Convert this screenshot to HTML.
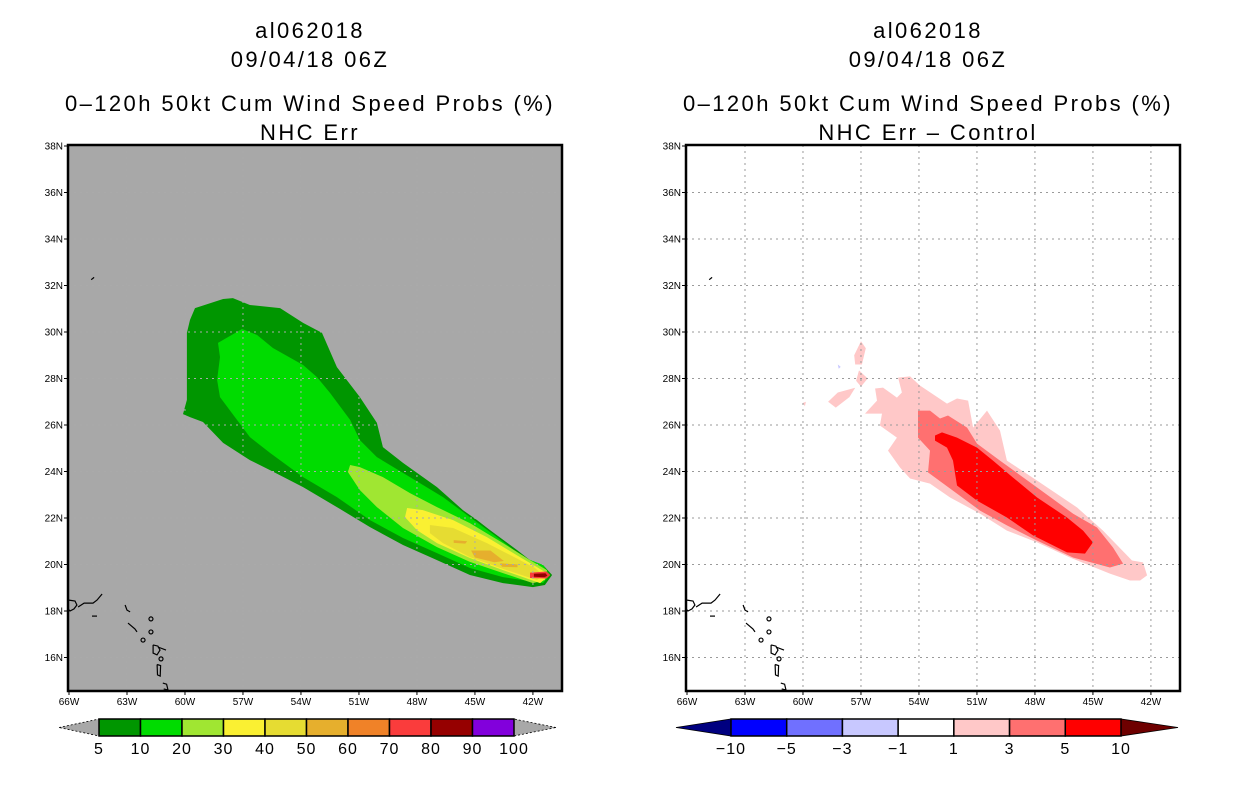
<!DOCTYPE html>
<html><head><meta charset="utf-8"><style>
html,body{margin:0;padding:0;background:#fff;}
svg{display:block;font-family:"Liberation Sans",sans-serif;}
</style></head><body>
<svg id="fig" width="1236" height="800" viewBox="0 0 1236 800" xmlns="http://www.w3.org/2000/svg">
<defs>
<clipPath id="clipL"><rect x="68" y="145" width="494" height="546"/></clipPath>
<clipPath id="clipR"><rect x="686" y="145" width="494" height="546"/></clipPath>
</defs>
<g font-size="22" letter-spacing="2.4" text-anchor="middle" fill="#000">
<text x="310" y="38">al062018</text>
<text x="310" y="67">09/04/18 06Z</text>
<text x="310" y="111">0–120h 50kt Cum Wind Speed Probs (%)</text>
<text x="310" y="140">NHC Err</text>
</g>
<g font-size="22" letter-spacing="2.4" text-anchor="middle" fill="#000">
<text x="928" y="38">al062018</text>
<text x="928" y="67">09/04/18 06Z</text>
<text x="928" y="111">0–120h 50kt Cum Wind Speed Probs (%)</text>
<text x="928" y="140">NHC Err – Control</text>
</g>
<g id="panelL"></g>
<g id="panelR"></g>
<g id="cbarL"></g>
<g id="cbarR"></g>
</svg>
<script>
const latTicks=[38,36,34,32,30,28,26,24,22,20,18,16];
const lonTicks=[66,63,60,57,54,51,48,45,42];
const leftLevels=["5","10","20","30","40","50","60","70","80","90","100"];
const leftColors=["#009600","#00dc00","#a0e632","#faf032","#e6dc32","#e6af2d","#f08228","#fa3c3c","#960000","#8200dc"];
const rightLevels=["−10","−5","−3","−1","1","3","5","10"];
const rightColors=["#0000ff","#7070ff","#c8c8ff","#ffffff","#ffc8c8","#ff7070","#ff0000"];

// probability contours (lon, lat)
const p5=[[-59.48,31.03],[-58.03,31.42],[-57.52,31.46],[-56.64,31.16],[-55.08,31.03],[-53.89,30.39],[-52.91,29.96],[-52.14,28.49],[-50.95,27.2],[-50.07,26.09],[-49.76,25.05],[-48.72,24.37],[-46.96,23.33],[-45.62,22.34],[-44.89,21.91],[-44.22,21.48],[-42.82,20.62],[-42.15,20.19],[-41.48,19.98],[-41.01,19.55],[-41.38,19.12],[-42.0,19.03],[-43.55,19.2],[-45.26,19.55],[-46.96,20.19],[-48.72,20.84],[-50.43,21.61],[-52.14,22.47],[-53.89,23.33],[-55.6,24.06],[-56.64,24.49],[-58.03,25.23],[-59.07,26.13],[-59.74,26.34],[-60.1,26.47],[-59.9,27.08],[-59.9,29.96],[-59.74,30.52]];
const p10=[[-58.29,29.53],[-57.05,30.13],[-56.27,29.87],[-55.45,29.31],[-53.89,28.58],[-53.17,28.06],[-52.5,27.38],[-51.46,26.22],[-50.95,25.35],[-50.07,24.62],[-48.36,23.76],[-46.65,22.9],[-45.26,22.04],[-43.86,21.18],[-42.51,20.32],[-41.48,19.98],[-41.12,19.55],[-41.48,19.2],[-43.55,19.46],[-45.26,19.85],[-46.96,20.49],[-48.72,21.14],[-50.43,21.91],[-52.14,22.9],[-53.89,23.76],[-55.6,24.8],[-56.64,25.48],[-57.31,26.22],[-58.19,27.2],[-58.34,27.94],[-58.19,28.92]];
const p20=[[-51.46,24.28],[-50.95,24.19],[-49.76,23.76],[-48.36,23.07],[-46.96,22.47],[-45.26,21.78],[-43.55,20.92],[-42.15,20.19],[-41.27,19.76],[-41.38,19.33],[-42.0,19.2],[-43.55,19.63],[-45.26,20.11],[-46.96,20.75],[-48.72,21.57],[-50.07,22.47],[-50.95,23.2],[-51.57,23.98]];
const p30=[[-48.51,22.43],[-47.69,22.34],[-46.13,21.91],[-44.38,21.18],[-42.67,20.32],[-41.79,19.89],[-41.12,19.55],[-41.63,19.2],[-43.55,19.76],[-45.26,20.28],[-46.96,20.92],[-48.0,21.48],[-48.62,22.04]];
const p40=[[-47.33,21.7],[-46.13,21.57],[-44.38,20.92],[-42.67,20.19],[-41.89,19.85],[-41.48,19.55],[-41.79,19.33],[-43.55,19.81],[-45.26,20.32],[-46.65,20.92],[-47.33,21.35]];
const p50a=[[-46.1,21.05],[-45.4,21.0],[-45.5,20.9],[-46.1,20.93]];
const p50b=[[-45.2,20.6],[-44.2,20.6],[-43.5,20.15],[-44.0,20.1],[-45.0,20.3]];
const p50c=[[-43.7,20.05],[-42.8,20.0],[-42.8,19.88],[-43.6,19.9]];
const p70=[[-42.15,19.65],[-41.3,19.7],[-41.1,19.55],[-41.3,19.4],[-42.15,19.42]];
const p80=[[-41.95,19.6],[-41.35,19.62],[-41.25,19.52],[-41.4,19.45],[-41.95,19.47]];

// difference contours (lon, lat)
const d1=[[-55.08,28.04],[-54.46,28.09],[-53.95,27.7],[-52.55,26.92],[-52.03,27.14],[-51.46,27.05],[-51.2,25.89],[-50.48,26.62],[-49.81,25.76],[-49.45,24.47],[-47.89,23.61],[-45.82,22.45],[-44.48,21.46],[-42.98,20.17],[-42.41,20.09],[-42.2,19.53],[-42.56,19.31],[-43.08,19.31],[-44.12,19.61],[-46.19,20.3],[-47.89,20.95],[-49.45,21.46],[-50.84,22.19],[-52.39,22.88],[-53.43,23.48],[-54.46,23.7],[-54.98,24.17],[-55.6,24.9],[-55.14,25.46],[-56.02,25.98],[-55.91,26.49],[-56.79,26.49],[-56.17,27.05],[-56.27,27.57],[-55.86,27.61],[-55.14,27.18],[-54.88,27.4]];
const d1b=[[-58.7,27.0],[-58.2,27.4],[-57.3,27.6],[-57.6,27.2],[-58.3,26.75]];
const d1c=[[-57.35,29.0],[-57.0,29.6],[-56.75,29.3],[-56.95,28.6],[-57.3,28.6]];
const d1d=[[-57.1,28.35],[-56.65,28.0],[-57.0,27.65],[-57.25,27.9]];
const d1e=[[-60.0,26.95],[-59.85,27.0],[-59.9,26.8]];
const d3=[[-54.05,26.62],[-53.43,26.62],[-52.91,26.28],[-52.5,26.41],[-51.51,25.89],[-51.0,25.2],[-49.81,24.47],[-47.89,23.31],[-46.03,22.19],[-44.79,21.59],[-43.96,20.73],[-43.44,20.04],[-44.12,19.87],[-46.03,20.3],[-47.89,21.03],[-49.45,21.68],[-50.84,22.32],[-52.03,23.05],[-53.53,23.96],[-53.43,24.9],[-54.05,25.46]];
const d5=[[-53.17,25.55],[-52.81,25.68],[-52.03,25.46],[-51.0,25.03],[-50.17,24.47],[-49.14,23.74],[-47.89,22.88],[-46.34,22.02],[-45.51,21.46],[-45.0,20.95],[-45.41,20.47],[-46.34,20.52],[-48.1,21.25],[-49.45,22.02],[-51.0,22.75],[-52.03,23.4],[-52.24,24.47],[-52.55,25.03],[-53.17,25.33]];
const dneg=[[-58.2,28.6],[-58.05,28.5],[-58.15,28.42]];

// coastlines (lon, lat)
const coastHisp=[[-66,18.47],[-65.69,18.43],[-65.59,18.26],[-65.74,18.09],[-65.95,18.0],[-66,18.05]];
const coastPR=[[-65.53,18.17],[-65.22,18.34],[-65.02,18.34],[-64.76,18.34],[-64.55,18.47],[-64.29,18.73]];
const coastVI=[[-64.81,17.78],[-64.55,17.78]];
const coastA=[[-63.1,18.26],[-63.0,18.04],[-62.84,17.96]];
const coastB=[[-62.95,17.48],[-62.59,17.23],[-62.48,17.1]];
const coastG=[[-61.65,16.54],[-61.4,16.49],[-61.29,16.32],[-61.45,16.11],[-61.65,16.19],[-61.65,16.54]];
const coastG2=[[-61.4,16.45],[-60.98,16.32]];
const coastD=[[-61.44,15.7],[-61.26,15.65],[-61.28,15.2],[-61.42,15.25],[-61.44,15.7]];
const coastM=[[-61.15,14.9],[-60.95,14.85],[-60.88,14.6],[-61.1,14.65]];
const isles=[[-61.76,17.66],[-61.76,17.1],[-62.17,16.75],[-61.24,15.94]];
const bermuda=[[-64.85,32.25],[-64.7,32.35]];

const NS="http://www.w3.org/2000/svg";
const PX0=69, PXS=19.33, PY0=146, PYS=23.25;
function xS(lon,off){return off+PX0+(lon+66)*PXS;}
function yS(lat){return PY0+(38-lat)*PYS;}
function mk(tag,attrs,parent){const e=document.createElementNS(NS,tag);for(const k in attrs)e.setAttribute(k,attrs[k]);parent.appendChild(e);return e;}
function ptsStr(arr,off){return arr.map(p=>xS(p[0],off).toFixed(1)+","+yS(p[1]).toFixed(1)).join(" ");}

function drawPanel(g,off,bg,fills,clipId,gridColor){
  const L=68+off,T=145,W=494,H=546;
  const r=mk("rect",{x:L,y:T,width:W,height:H,fill:bg},g);
  
  
  const cg=mk("g",{"clip-path":"url(#"+clipId+")"},g);
  
  
  fills.forEach(f=>{
    const p=mk("polygon",{points:ptsStr(f.d,off),fill:f.c},cg);
    
    
  });
  const gg=mk("g",{stroke:gridColor,"stroke-width":1,"stroke-dasharray":"2,4"},g);
  
  
  lonTicks.forEach(lo=>{const x=xS(-lo,off);if(x>L+2&&x<L+W-2){const l=mk("line",{x1:x,y1:T,x2:x,y2:T+H},gg);}});
  latTicks.forEach(la=>{const y=yS(la);if(y>T+2&&y<T+H-2){const l=mk("line",{x1:L,y1:y,x2:L+W,y2:y},gg);}});
  const cst=mk("g",{fill:"none",stroke:"#000","stroke-width":1.2,"clip-path":"url(#"+clipId+")"},g);
  
  
  [coastHisp,coastPR,coastVI,coastA,coastB,coastG,coastG2,coastD,coastM,bermuda].forEach(c=>{
    const pl=mk("polyline",{points:ptsStr(c,off)},cst);
    
    
  });
  isles.forEach(c=>{
    const ci=mk("circle",{cx:xS(c[0],off),cy:yS(c[1]),r:2},cst);
    
    
  });
  const fr=mk("rect",{x:L,y:T,width:W,height:H,fill:"none",stroke:"#000","stroke-width":2.5},g);
  
  
  const tg=mk("g",{"font-size":"10",fill:"#000"},g);
  
  
  latTicks.forEach(la=>{
    const y=yS(la);
    const tk=mk("line",{x1:L-4,y1:y,x2:L,y2:y,stroke:"#000"},tg);
    
    
    const t=mk("text",{x:L-5,y:y+3.5,"text-anchor":"end"},tg);
    t.textContent=la+"N";
    
    
  });
  lonTicks.forEach(lo=>{
    const x=xS(-lo,off);
    const tk=mk("line",{x1:x,y1:T+H,x2:x,y2:T+H+4,stroke:"#000"},tg);
    
    
    const t=mk("text",{x:x,y:T+H+14,"text-anchor":"middle"},tg);
    t.textContent=lo+"W";
    
    
  });
}

drawPanel(document.getElementById("panelL"),0,"#a8a8a8",[
 {d:p5,c:leftColors[0],n:"prob-5"},{d:p10,c:leftColors[1],n:"prob-10"},{d:p20,c:leftColors[2],n:"prob-20"},
 {d:p30,c:leftColors[3],n:"prob-30"},{d:p40,c:leftColors[4],n:"prob-40"},
 {d:p50a,c:leftColors[5],n:"prob-50"},{d:p50b,c:leftColors[5],n:"prob-50"},{d:p50c,c:leftColors[5],n:"prob-50"},
 {d:p70,c:leftColors[7],n:"prob-70"},{d:p80,c:leftColors[8],n:"prob-80"}],"clipL","#aaaaaa");
drawPanel(document.getElementById("panelR"),618,"#ffffff",[
 {d:d1,c:rightColors[4],n:"diff-1"},{d:d1b,c:rightColors[4],n:"diff-1"},{d:d1c,c:rightColors[4],n:"diff-1"},
 {d:d1d,c:rightColors[4],n:"diff-1"},{d:d1e,c:rightColors[4],n:"diff-1"},
 {d:d3,c:rightColors[5],n:"diff-3"},{d:d5,c:rightColors[6],n:"diff-5"},{d:dneg,c:rightColors[2],n:"diff-neg-1"}],"clipR","#9a9a9a");

function drawBar(g,x0,x1,tipL,tipR,colors,labels,triL,triR,dashed){
  const y0=719,y1=736,ym=(y0+y1)/2,w=(x1-x0)/colors.length;
  const a=mk("polygon",{points:`${tipL},${ym} ${x0},${y0} ${x0},${y1}`,fill:triL,stroke:"#000","stroke-width":0.8,"stroke-dasharray":dashed?"2,2":"none"},g);
  
  
  const b=mk("polygon",{points:`${tipR},${ym} ${x1},${y0} ${x1},${y1}`,fill:triR,stroke:"#000","stroke-width":0.8,"stroke-dasharray":dashed?"2,2":"none"},g);
  
  
  colors.forEach((c,i)=>{
    const r=mk("rect",{x:x0+i*w,y:y0,width:w,height:y1-y0,fill:c,stroke:"#000","stroke-width":1.5},g);
    
    
  });
  labels.forEach((l,i)=>{
    const t=mk("text",{x:x0+i*w,y:754,"text-anchor":"middle","font-size":"16","letter-spacing":"1",fill:"#000"},g);
    t.textContent=l;
    
    
  });
}
drawBar(document.getElementById("cbarL"),99,514,59,556,leftColors,leftLevels,"#a8a8a8","#a8a8a8",true);
drawBar(document.getElementById("cbarR"),731,1121,676,1178,rightColors,rightLevels,"#000080","#6e0000",false);
</script>
</body></html>
